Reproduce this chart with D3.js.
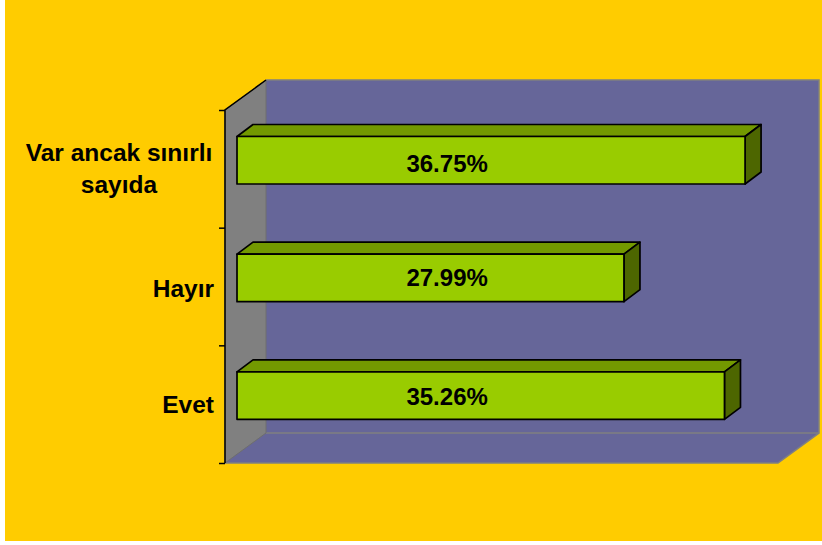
<!DOCTYPE html>
<html><head><meta charset="utf-8">
<script src="https://cdn.jsdelivr.net/npm/d3@7/dist/d3.min.js"></script>
<style>html,body{margin:0;padding:0;background:#fff}svg{display:block}</style></head>
<body><svg id="c" width="822" height="545"></svg>
<script>
const categories = ["Evet", "Hayır", "Var ancak sınırlı sayıda"];
const values = [35.26, 27.99, 36.75];
const labelLines = [["Evet"], ["Hayır"], ["Var ancak sınırlı", "sayıda"]];
const domainMax = 40;

const svg = d3.select("#c");
const font = "Liberation Sans, Arial, sans-serif";
const dx = 41, dy = 30, L = 225, T = 110, B = 463;
const barDx = 16, barDy = 12;
const x = d3.scaleLinear().domain([0, domainMax]).range([L + 12, L + 12 + 553]);
const y = d3.scaleBand().domain(categories).range([B, T]).padding(0);
const poly = pts => pts.map(p => p.join(",")).join(" ");

svg.append("rect").attr("x", 5).attr("y", 0).attr("width", 817).attr("height", 541).attr("fill", "#ffcc00");

const R = L + 553;
svg.append("polygon").attr("points", poly([[L+dx,T-dy],[R+dx,T-dy],[R+dx,B-dy],[R,B],[L,B]]))
  .attr("fill", "#666699");
svg.append("path").attr("d", `M${L+dx},${T-dy}H${R+dx}V${B-dy}L${R},${B}H${L}`)
  .attr("fill","none").attr("stroke","#808080").attr("stroke-width",1.5);
svg.append("line").attr("x1",L+dx).attr("x2",R+dx).attr("y1",B-dy).attr("y2",B-dy).attr("stroke","#808080").attr("stroke-width",1.5);
svg.append("polygon").attr("points", poly([[L,T],[L+dx,T-dy],[L+dx,B-dy],[L,B]]))
  .attr("fill", "#808080").attr("stroke","#6e6e6e").attr("stroke-width",1);
const axis = d3.axisLeft(d3.scaleLinear().domain([0,categories.length]).range([B,T])).tickValues(d3.range(categories.length+1)).tickSize(6).tickFormat("");
const ga = svg.append("g").attr("transform",`translate(${L},0)`).call(axis);
ga.select(".domain").remove();
ga.selectAll("line").attr("stroke","#000").attr("stroke-width",1.5);
svg.append("path").attr("d",`M${L+dx},${T-dy}L${L},${T}V${B}`).attr("fill","none").attr("stroke","#000").attr("stroke-width",1.5);

const barTop = c => y(c) + 26.5, barH = 47.5;
const g = svg.append("g").selectAll("g").data(categories).join("g");
const st = s => s.attr("stroke","#000").attr("stroke-width",1.7).attr("stroke-linejoin","round");
g.append("polygon").attr("fill","#739900").call(st)
  .attr("points",(c,i)=>{const a=x(0),b=x(values[i]),t=barTop(c);return poly([[a,t],[a+barDx,t-barDy],[b+barDx,t-barDy],[b,t]]);});
g.append("polygon").attr("fill","#4d6600").call(st)
  .attr("points",(c,i)=>{const b=x(values[i]),t=barTop(c);return poly([[b,t],[b+barDx,t-barDy],[b+barDx,t-barDy+barH],[b,t+barH]]);});
g.append("rect").attr("fill","#99cc00").call(st)
  .attr("x",x(0)).attr("y",barTop).attr("width",(c,i)=>x(values[i])-x(0)).attr("height",barH);
const labelBaseOffset = [33, 32, 35];
g.append("text").attr("text-anchor","middle").attr("font-family",font).attr("font-weight","bold").attr("font-size",24)
  .attr("x",x(15.2)).attr("y",(c,i)=>barTop(c)+labelBaseOffset[i])
  .text((c,i)=>values[i].toFixed(2)+"%");

const catOffset = [[9], [10], [-8, 24]];
const lab = svg.append("g").selectAll("text").data(categories).join("text")
  .attr("font-family",font).attr("font-weight","bold").attr("font-size",24.5).attr("fill","#000");
lab.each(function(c,i){
  const ls = labelLines[i], multi = ls.length>1;
  d3.select(this).attr("text-anchor", multi ? "middle" : "end")
    .selectAll("tspan").data(ls).join("tspan")
    .attr("x", multi ? 119 : 214)
    .attr("y",(d,j)=>y(c)+y.bandwidth()/2+catOffset[i][j])
    .text(d=>d);
});
</script></body></html>
